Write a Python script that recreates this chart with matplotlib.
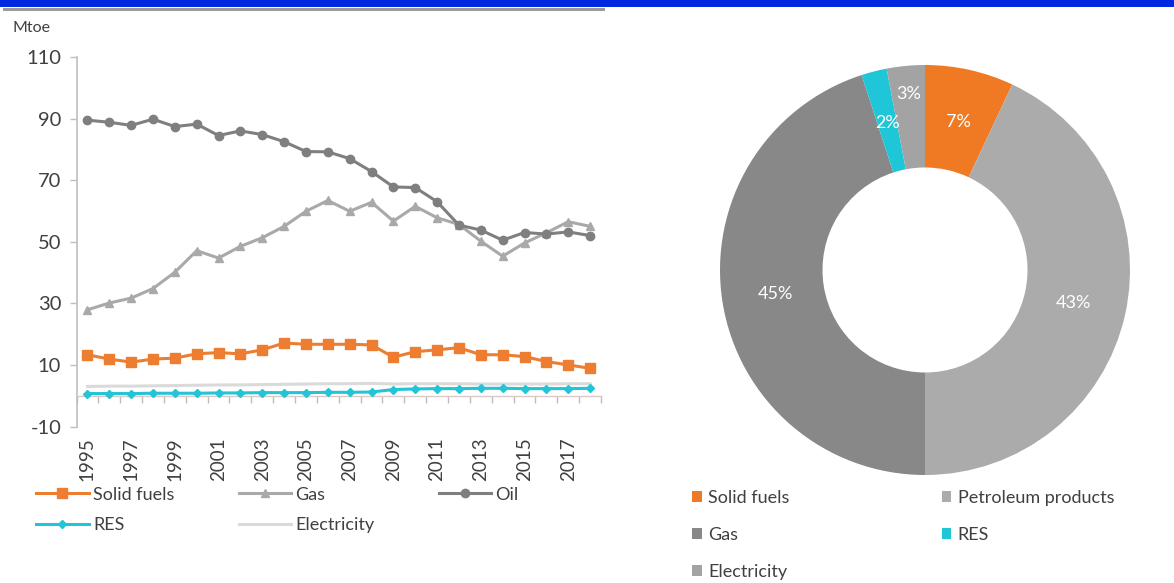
import matplotlib
matplotlib.use("Agg")
import matplotlib.pyplot as plt
from matplotlib.patches import Rectangle, Patch
import numpy as np

plt.rcParams['font.family'] = ['Lato', 'DejaVu Sans']
plt.rcParams['axes.unicode_minus'] = False

# ---------------- data ----------------
years = list(range(1995, 2019))
solid_fuels = [13.3, 11.9, 10.9, 11.9, 12.2, 13.6, 14.0, 13.6, 14.9, 17.1, 16.7, 16.7,
               16.7, 16.5, 12.5, 14.3, 14.9, 15.6, 13.3, 13.3, 12.7, 11.1, 10.0, 8.9]
gas = [27.9, 30.1, 31.7, 34.8, 40.1, 47.1, 44.7, 48.5, 51.3, 55.0, 59.9, 63.4,
       59.9, 62.8, 56.7, 61.5, 57.8, 55.6, 50.2, 45.3, 49.6, 52.9, 56.5, 55.0]
oil = [89.5, 88.8, 87.8, 89.8, 87.4, 88.2, 84.5, 86.0, 84.8, 82.5, 79.3, 79.2,
       77.0, 72.8, 67.8, 67.6, 63.0, 55.4, 53.8, 50.5, 53.0, 52.5, 53.2, 52.0]
res = [0.7, 0.7, 0.7, 0.8, 0.8, 0.8, 0.9, 0.9, 1.0, 1.0, 1.0, 1.1,
       1.1, 1.2, 2.0, 2.2, 2.3, 2.3, 2.4, 2.4, 2.3, 2.3, 2.3, 2.4]
electricity = [3.0, 3.1, 3.1, 3.2, 3.3, 3.4, 3.5, 3.5, 3.6, 3.7, 3.8, 3.9,
               3.9, 4.0, 3.8, 3.9, 3.9, 3.9, 3.8, 3.8, 3.8, 3.8, 3.9, 3.9]
year_labels = [str(y) for y in range(1995, 2019, 2)]
y_ticks = [-10, 10, 30, 50, 70, 90, 110]

pie_labels = ['Solid fuels', 'Petroleum products', 'Gas', 'RES', 'Electricity']
pie_values = [7, 43, 45, 2, 3]

# ---------------- styles ----------------
C_SOLID = '#ED7D31'
C_GAS = '#A9A9A9'
C_OIL = '#7F7F7F'
C_RES = '#22C4D6'
C_ELEC = '#DADADA'
TXT = '#404040'

pie_colors = ['#F07A24', '#ABABAB', '#888888', '#1EC6D8', '#A3A3A3']

W, H = 1174, 583
fig = plt.figure(figsize=(W / 100, H / 100), dpi=100)
fig.patch.set_facecolor('white')

# decorations: blue top bar and grey rule
fig.add_artist(Rectangle((0, 1 - 7 / H), 1, 7 / H, transform=fig.transFigure,
                         color='#0028E2', lw=0, zorder=0))
fig.add_artist(Rectangle((3 / W, 1 - 11 / H), 602 / W, 2.5 / H, transform=fig.transFigure,
                         color='#9A9A9A', lw=0, zorder=0))

# ---------------- line chart ----------------
ax = fig.add_axes([76.5 / W, 1 - 426.5 / H, 524.5 / W, 369.5 / H])
x = np.arange(len(years))
ax.plot(x, electricity, color=C_ELEC, lw=2.2, zorder=2, label='Electricity')
ax.plot(x, res, color=C_RES, lw=2.2, marker='D', ms=4.5, zorder=3, label='RES')
ax.plot(x, solid_fuels, color=C_SOLID, lw=2.2, marker='s', ms=6.5, zorder=4, label='Solid fuels')
ax.plot(x, gas, color=C_GAS, lw=2.2, marker='^', ms=6, zorder=4, label='Gas')
ax.plot(x, oil, color=C_OIL, lw=2.2, marker='o', ms=6, zorder=5, label='Oil')

ax.set_xlim(-0.5, len(years) - 0.5)
ax.set_ylim(-10, 110)
ax.set_yticks(y_ticks)
ax.tick_params(axis='y', labelsize=14.5, colors=TXT, length=5, width=1, color='#BFBFBF', pad=6)
for s in ['top', 'right']:
    ax.spines[s].set_visible(False)
ax.spines['left'].set_color('#BFBFBF')
ax.spines['left'].set_linewidth(1.2)
ax.spines['bottom'].set_position(('data', 0))
ax.spines['bottom'].set_color('#D9C9C9')
ax.spines['bottom'].set_linewidth(1)
ax.set_xticks(np.arange(-0.5, len(years), 1.0))
ax.tick_params(axis='x', direction='out', length=5, width=1, color='#C8B8B8', labelbottom=False)

ax2 = ax.twiny()
ax2.set_xlim(ax.get_xlim())
ax2.xaxis.set_ticks_position('bottom')
ax2.xaxis.set_label_position('bottom')
ax2.set_xticks(np.arange(0, len(years), 2))
ax2.set_xticklabels(year_labels, rotation=90, fontsize=13.5, color=TXT)
ax2.tick_params(axis='x', length=0, pad=8)
for s in ax2.spines.values():
    s.set_visible(False)

fig.text(12 / W, 1 - 28 / H, 'Mtoe', fontsize=11.5, color=TXT, va='center', ha='left')

# legend for the line chart (column-major ordering to get rows)
hmap = {h.get_label(): h for h in ax.get_lines()}
order = ['Solid fuels', 'RES', 'Gas', 'Electricity', 'Oil']
leg1 = fig.legend([hmap[k] for k in order], order, loc='center left',
                  bbox_to_anchor=(20 / W, 1 - 510 / H), ncol=3, frameon=False,
                  fontsize=13, handlelength=2.9, handletextpad=0.25,
                  columnspacing=3.55, labelspacing=0.8)
for t in leg1.get_texts():
    t.set_color(TXT)

# ---------------- doughnut ----------------
r = 205
axp = fig.add_axes([(925 - r) / W, 1 - (270 + r) / H, 2 * r / W, 2 * r / H])
wedges, _ = axp.pie(pie_values, colors=pie_colors, startangle=90, counterclock=False,
                    radius=1.0, wedgeprops=dict(width=0.5, linewidth=0))
axp.set_xlim(-1, 1)
axp.set_ylim(-1, 1)
axp.set_aspect('equal')

# percentage labels
cum = np.cumsum([0] + pie_values[:-1])
total = float(sum(pie_values))
label_r = [0.74, 0.74, 0.74, 0.74, 0.86]
for v, c0, lr in zip(pie_values, cum, label_r):
    ang = np.deg2rad(90 - 360 * (c0 + v / 2) / total)
    axp.text(lr * np.cos(ang), lr * np.sin(ang), f'{v}%', ha='center', va='center',
             fontsize=13, color='white')

patches = [Patch(facecolor=c, edgecolor='none') for c in pie_colors]
pmap = dict(zip(pie_labels, patches))
porder = ['Solid fuels', 'Gas', 'Electricity', 'Petroleum products', 'RES']
leg2 = fig.legend([pmap[k] for k in porder], porder, loc='center left',
                  bbox_to_anchor=(676 / W, 1 - 535 / H), ncol=2, frameon=False,
                  fontsize=13, handlelength=0.55, handleheight=0.55, handletextpad=0.35,
                  columnspacing=8.4, labelspacing=1.15)
for t in leg2.get_texts():
    t.set_color(TXT)

fig.savefig('out.png', dpi=100, facecolor='white')
